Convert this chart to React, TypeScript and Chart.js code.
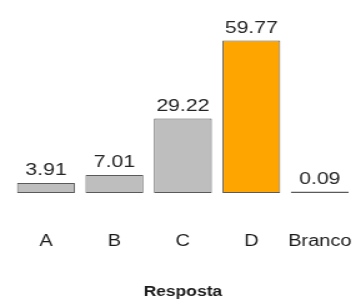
import React, { useEffect, useRef } from "react";
import { Chart, registerables } from "chart.js";

Chart.register(...registerables);

const categories = ["A", "B", "C", "D", "Branco"];
const values = [3.91, 7.01, 29.22, 59.77, 0.09];
const valueLabels = ["3.91", "7.01", "29.22", "59.77", "0.09"];
const barColors = ["#bebebe", "#bebebe", "#bebebe", "#ffa500", "#bebebe"];
const axisTitle = "Resposta";

const STRETCH = 1.25;
const W = 356;
const H = 302;
const IW = Math.round(W / STRETCH);

const valueLabelPlugin = {
  id: "valueLabels",
  afterDatasetsDraw(chart: any) {
    const ctx = chart.ctx;
    const meta = chart.getDatasetMeta(0);
    ctx.save();
    ctx.font = "17px 'Liberation Sans', Arial, sans-serif";
    ctx.fillStyle = "#262626";
    ctx.textAlign = "center";
    ctx.textBaseline = "bottom";
    meta.data.forEach((bar: any, i: number) => {
      ctx.fillText(valueLabels[i], bar.x, bar.y - 4);
    });
    ctx.restore();
  },
};

export default function App() {
  const ref = useRef<HTMLCanvasElement>(null);
  useEffect(() => {
    document.body.style.margin = "0";
    const canvas = ref.current!;
    const chart = new Chart(canvas, {
      type: "bar",
      data: {
        labels: categories,
        datasets: [
          {
            data: values,
            backgroundColor: barColors,
            borderColor: "#5a5a5a",
            borderWidth: 1,
            borderSkipped: false,
            barPercentage: 0.845,
            categoryPercentage: 1,
            minBarLength: 1.6,
          },
        ],
      },
      options: {
        animation: false,
        responsive: false,
        devicePixelRatio: 1,
        layout: { padding: { left: 9.4, right: 1.6, top: 40, bottom: 0 } },
        plugins: { legend: { display: false }, tooltip: { enabled: false } },
        scales: {
          x: {
            grid: {
              display: true,
              drawOnChartArea: false,
              drawTicks: true,
              tickLength: 36,
              color: "rgba(0,0,0,0)",
            },
            border: { display: false },
            ticks: {
              padding: 3,
              maxRotation: 0,
              minRotation: 0,
              autoSkip: false,
              color: "#1a1a1a",
              font: { family: "'Liberation Sans', Arial, sans-serif", size: 16 },
            },
            title: {
              display: true,
              text: axisTitle,
              color: "#1a1a1a",
              font: { family: "'Liberation Sans', Arial, sans-serif", size: 14, weight: "bold" },
              padding: { top: 30, bottom: 1 },
            },
          },
          y: {
            display: false,
            min: 0,
            max: 60,
          },
        },
      },
      plugins: [valueLabelPlugin],
    });
    return () => chart.destroy();
  }, []);
  return (
    <div style={{ position: "absolute", left: 0, top: 0, width: W, height: H, background: "#fff", overflow: "hidden" }}>
      <div style={{ width: IW, height: H, transform: `scaleX(${W / IW})`, transformOrigin: "0 0" }}>
        <canvas ref={ref} width={IW} height={H} style={{ display: "block" }} />
      </div>
    </div>
  );
}
